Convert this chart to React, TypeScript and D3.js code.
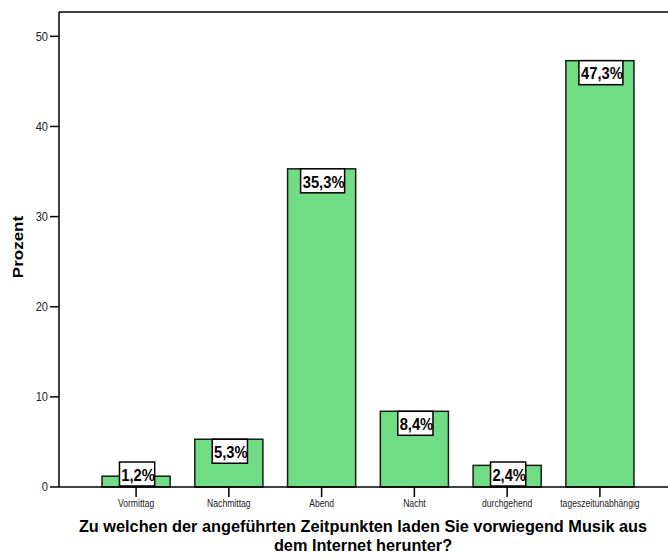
import React from "react";
import * as d3 from "d3";

const categories = ["Vormittag", "Nachmittag", "Abend", "Nacht", "durchgehend", "tageszeitunabhängig"];
const percents = [1.2, 5.3, 35.3, 8.4, 2.4, 47.3];
const valueLabels = ["1,2%", "5,3%", "35,3%", "8,4%", "2,4%", "47,3%"];
const yTicks = [0, 10, 20, 30, 40, 50];
const yMax = 52.7;
const yTitle = "Prozent";
const xTitleLines = [
  "Zu welchen der angeführten Zeitpunkten laden Sie vorwiegend Musik aus",
  "dem Internet herunter?",
];

const W = 668;
const H = 560;
const left = 59;
const top = 12;
const bottom = 487;
const SQ = 0.82;
const FONT = "Arial, 'Liberation Sans', sans-serif";

export default function App() {
  const x = d3
    .scaleBand<string>()
    .domain(categories)
    .range([89.7, 646.3])
    .paddingInner(0.266)
    .paddingOuter(0.133);
  const y = d3.scaleLinear().domain([0, yMax]).range([bottom, top]);
  const bw = x.bandwidth();

  return (
    <svg
      width={W}
      height={H}
      style={{ position: "absolute", left: 0, top: 0, background: "#fff" }}
      fontFamily={FONT}
    >
      {/* frame */}
      <line x1={left} x2={W} y1={top} y2={top} stroke="#000" strokeWidth={1.5} />
      <line x1={left} x2={left} y1={top} y2={bottom} stroke="#000" strokeWidth={1.5} />

      {/* bars */}
      {categories.map((c, i) => (
        <rect
          key={c}
          x={x(c)}
          y={y(percents[i])}
          width={bw}
          height={y(0) - y(percents[i])}
          fill="#70dc84"
          stroke="#1a1a1a"
          strokeWidth={1.5}
        />
      ))}

      <line x1={left} x2={W} y1={bottom} y2={bottom} stroke="#000" strokeWidth={1.5} />

      {/* y ticks */}
      {yTicks.map((t) => (
        <g key={t}>
          <line x1={left - 9} x2={left} y1={y(t)} y2={y(t)} stroke="#000" strokeWidth={1.5} />
          <text
            transform={`translate(${left - 11},${y(t)}) scale(${SQ},1)`}
            textAnchor="end"
            dominantBaseline="central"
            fontSize={13.5}
            fill="#222"
          >
            {t}
          </text>
        </g>
      ))}

      {/* x ticks and labels */}
      {categories.map((c) => {
        const cx = (x(c) as number) + bw / 2;
        return (
          <g key={c}>
            <line x1={cx} x2={cx} y1={bottom} y2={bottom + 10} stroke="#000" strokeWidth={1.5} />
            <text
              transform={`translate(${cx},${bottom + 20}) scale(${SQ},1)`}
              textAnchor="middle"
              fontSize={10.5}
              fill="#222"
            >
              {c}
            </text>
          </g>
        );
      })}

      {/* value labels */}
      {categories.map((c, i) => {
        const cx = (x(c) as number) + bw / 2 + 1;
        const lbl = valueLabels[i];
        const bwid = lbl.length * 8.8;
        const bh = 24;
        const by = Math.min(y(percents[i]), y(0) - bh - 1);
        return (
          <g key={c + "l"}>
            <rect x={cx - bwid / 2} y={by} width={bwid} height={bh} fill="#fff" stroke="#000" strokeWidth={1.5} />
            <text
              transform={`translate(${cx + 1},${by + bh / 2 + 1}) scale(0.92,1)`}
              textAnchor="middle"
              dominantBaseline="central"
              fontSize={16}
              fontWeight="bold"
              fill="#000"
            >
              {lbl}
            </text>
          </g>
        );
      })}

      {/* y title */}
      <text
        transform={`translate(23,247) scale(${SQ},1) rotate(-90)`}
        textAnchor="middle"
        fontSize={17}
        fontWeight="bold"
        fill="#000"
      >
        {yTitle}
      </text>

      {/* x title */}
      {xTitleLines.map((l, i) => (
        <text
          key={i}
          x={363}
          y={532 + i * 18.5}
          textAnchor="middle"
          fontSize={16.3}
          fontWeight="bold"
          fill="#000"
        >
          {l}
        </text>
      ))}
    </svg>
  );
}
